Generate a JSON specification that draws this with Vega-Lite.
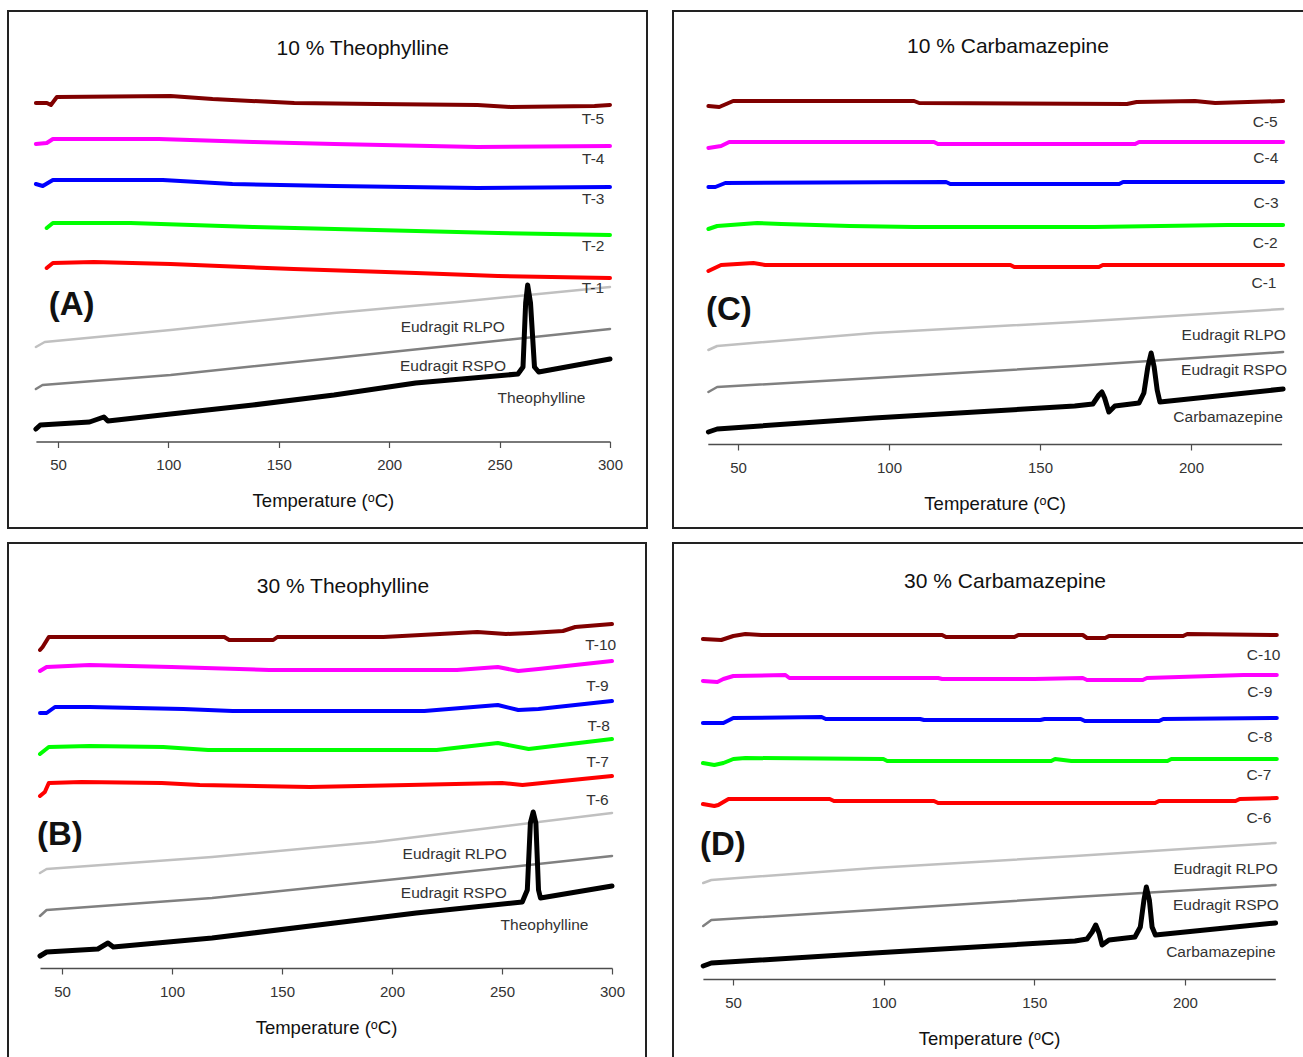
{
  "$schema": "https://vega.github.io/schema/vega-lite/v6.json",
  "padding": {"left": 7, "top": 10, "right": 0, "bottom": 0},
  "background": "white",
  "datasets": {
    "curves": [
      {"panel":"A","series":"T-5","kind":"formulation","temp":40,"flow":34.0},
      {"panel":"A","series":"T-5","kind":"formulation","temp":45,"flow":34.0},
      {"panel":"A","series":"T-5","kind":"formulation","temp":46.8,"flow":33.8},
      {"panel":"A","series":"T-5","kind":"formulation","temp":49.5,"flow":34.6},
      {"panel":"A","series":"T-5","kind":"formulation","temp":101,"flow":34.7},
      {"panel":"A","series":"T-5","kind":"formulation","temp":120,"flow":34.4},
      {"panel":"A","series":"T-5","kind":"formulation","temp":157,"flow":34.0},
      {"panel":"A","series":"T-5","kind":"formulation","temp":194,"flow":33.9},
      {"panel":"A","series":"T-5","kind":"formulation","temp":240,"flow":33.8},
      {"panel":"A","series":"T-5","kind":"formulation","temp":255,"flow":33.6},
      {"panel":"A","series":"T-5","kind":"formulation","temp":293,"flow":33.7},
      {"panel":"A","series":"T-5","kind":"formulation","temp":300,"flow":33.8},
      {"panel":"A","series":"T-4","kind":"formulation","temp":40,"flow":29.9},
      {"panel":"A","series":"T-4","kind":"formulation","temp":44.9,"flow":30.0},
      {"panel":"A","series":"T-4","kind":"formulation","temp":47.7,"flow":30.4},
      {"panel":"A","series":"T-4","kind":"formulation","temp":95.7,"flow":30.4},
      {"panel":"A","series":"T-4","kind":"formulation","temp":138.3,"flow":30.1},
      {"panel":"A","series":"T-4","kind":"formulation","temp":175.2,"flow":29.9},
      {"panel":"A","series":"T-4","kind":"formulation","temp":240,"flow":29.6},
      {"panel":"A","series":"T-4","kind":"formulation","temp":300,"flow":29.7},
      {"panel":"A","series":"T-3","kind":"formulation","temp":40,"flow":25.9},
      {"panel":"A","series":"T-3","kind":"formulation","temp":43.1,"flow":25.7},
      {"panel":"A","series":"T-3","kind":"formulation","temp":47.7,"flow":26.3},
      {"panel":"A","series":"T-3","kind":"formulation","temp":97.5,"flow":26.3},
      {"panel":"A","series":"T-3","kind":"formulation","temp":129,"flow":25.9},
      {"panel":"A","series":"T-3","kind":"formulation","temp":175,"flow":25.7},
      {"panel":"A","series":"T-3","kind":"formulation","temp":240,"flow":25.5},
      {"panel":"A","series":"T-3","kind":"formulation","temp":300,"flow":25.6},
      {"panel":"A","series":"T-2","kind":"formulation","temp":44.9,"flow":21.5},
      {"panel":"A","series":"T-2","kind":"formulation","temp":47.7,"flow":22.0},
      {"panel":"A","series":"T-2","kind":"formulation","temp":82.8,"flow":22.0},
      {"panel":"A","series":"T-2","kind":"formulation","temp":138.3,"flow":21.6},
      {"panel":"A","series":"T-2","kind":"formulation","temp":193.6,"flow":21.3},
      {"panel":"A","series":"T-2","kind":"formulation","temp":249.2,"flow":21.0},
      {"panel":"A","series":"T-2","kind":"formulation","temp":300,"flow":20.8},
      {"panel":"A","series":"T-1","kind":"formulation","temp":44.9,"flow":17.5},
      {"panel":"A","series":"T-1","kind":"formulation","temp":47.7,"flow":18.0},
      {"panel":"A","series":"T-1","kind":"formulation","temp":66.2,"flow":18.1},
      {"panel":"A","series":"T-1","kind":"formulation","temp":101,"flow":17.9},
      {"panel":"A","series":"T-1","kind":"formulation","temp":156.7,"flow":17.4},
      {"panel":"A","series":"T-1","kind":"formulation","temp":212.1,"flow":17.0},
      {"panel":"A","series":"T-1","kind":"formulation","temp":249.2,"flow":16.7},
      {"panel":"A","series":"T-1","kind":"formulation","temp":300,"flow":16.5},
      {"panel":"A","series":"Eudragit RLPO","kind":"polymer","temp":40,"flow":9.6},
      {"panel":"A","series":"Eudragit RLPO","kind":"polymer","temp":44,"flow":10.1},
      {"panel":"A","series":"Eudragit RLPO","kind":"polymer","temp":101,"flow":11.3},
      {"panel":"A","series":"Eudragit RLPO","kind":"polymer","temp":175,"flow":13.0},
      {"panel":"A","series":"Eudragit RLPO","kind":"polymer","temp":230.7,"flow":14.1},
      {"panel":"A","series":"Eudragit RLPO","kind":"polymer","temp":300,"flow":15.6},
      {"panel":"A","series":"Eudragit RSPO","kind":"polymer","temp":40,"flow":5.4},
      {"panel":"A","series":"Eudragit RSPO","kind":"polymer","temp":43,"flow":5.8},
      {"panel":"A","series":"Eudragit RSPO","kind":"polymer","temp":101,"flow":6.8},
      {"panel":"A","series":"Eudragit RSPO","kind":"polymer","temp":175,"flow":8.5},
      {"panel":"A","series":"Eudragit RSPO","kind":"polymer","temp":300,"flow":11.4},
      {"panel":"A","series":"Theophylline","kind":"drug","temp":40,"flow":1.4},
      {"panel":"A","series":"Theophylline","kind":"drug","temp":42,"flow":1.8},
      {"panel":"A","series":"Theophylline","kind":"drug","temp":64.3,"flow":2.1},
      {"panel":"A","series":"Theophylline","kind":"drug","temp":70.8,"flow":2.6},
      {"panel":"A","series":"Theophylline","kind":"drug","temp":72.6,"flow":2.2},
      {"panel":"A","series":"Theophylline","kind":"drug","temp":101,"flow":2.9},
      {"panel":"A","series":"Theophylline","kind":"drug","temp":138.3,"flow":3.8},
      {"panel":"A","series":"Theophylline","kind":"drug","temp":175,"flow":4.8},
      {"panel":"A","series":"Theophylline","kind":"drug","temp":212,"flow":6.0},
      {"panel":"A","series":"Theophylline","kind":"drug","temp":258.3,"flow":6.9},
      {"panel":"A","series":"Theophylline","kind":"drug","temp":260.6,"flow":7.6},
      {"panel":"A","series":"Theophylline","kind":"drug","temp":261.8,"flow":14.0},
      {"panel":"A","series":"Theophylline","kind":"drug","temp":262.7,"flow":15.8},
      {"panel":"A","series":"Theophylline","kind":"drug","temp":264,"flow":14.0},
      {"panel":"A","series":"Theophylline","kind":"drug","temp":265.8,"flow":7.6},
      {"panel":"A","series":"Theophylline","kind":"drug","temp":267.7,"flow":7.1},
      {"panel":"A","series":"Theophylline","kind":"drug","temp":300,"flow":8.4},

      {"panel":"C","series":"C-5","kind":"formulation","temp":40.2,"flow":33.9},
      {"panel":"C","series":"C-5","kind":"formulation","temp":43.8,"flow":33.8},
      {"panel":"C","series":"C-5","kind":"formulation","temp":48.4,"flow":34.4},
      {"panel":"C","series":"C-5","kind":"formulation","temp":108.3,"flow":34.4},
      {"panel":"C","series":"C-5","kind":"formulation","temp":110,"flow":34.2},
      {"panel":"C","series":"C-5","kind":"formulation","temp":178.8,"flow":34.1},
      {"panel":"C","series":"C-5","kind":"formulation","temp":182,"flow":34.3},
      {"panel":"C","series":"C-5","kind":"formulation","temp":201.3,"flow":34.4},
      {"panel":"C","series":"C-5","kind":"formulation","temp":208,"flow":34.2},
      {"panel":"C","series":"C-5","kind":"formulation","temp":230.5,"flow":34.4},
      {"panel":"C","series":"C-4","kind":"formulation","temp":40.2,"flow":29.7},
      {"panel":"C","series":"C-4","kind":"formulation","temp":44.4,"flow":29.9},
      {"panel":"C","series":"C-4","kind":"formulation","temp":47.1,"flow":30.3},
      {"panel":"C","series":"C-4","kind":"formulation","temp":114.9,"flow":30.3},
      {"panel":"C","series":"C-4","kind":"formulation","temp":116.2,"flow":30.1},
      {"panel":"C","series":"C-4","kind":"formulation","temp":181.5,"flow":30.1},
      {"panel":"C","series":"C-4","kind":"formulation","temp":182.8,"flow":30.3},
      {"panel":"C","series":"C-4","kind":"formulation","temp":230.5,"flow":30.3},
      {"panel":"C","series":"C-3","kind":"formulation","temp":40.2,"flow":25.8},
      {"panel":"C","series":"C-3","kind":"formulation","temp":42.5,"flow":25.8},
      {"panel":"C","series":"C-3","kind":"formulation","temp":45.8,"flow":26.2},
      {"panel":"C","series":"C-3","kind":"formulation","temp":118.9,"flow":26.3},
      {"panel":"C","series":"C-3","kind":"formulation","temp":120.3,"flow":26.1},
      {"panel":"C","series":"C-3","kind":"formulation","temp":176.2,"flow":26.1},
      {"panel":"C","series":"C-3","kind":"formulation","temp":177.5,"flow":26.3},
      {"panel":"C","series":"C-3","kind":"formulation","temp":230.5,"flow":26.3},
      {"panel":"C","series":"C-2","kind":"formulation","temp":40.2,"flow":21.6},
      {"panel":"C","series":"C-2","kind":"formulation","temp":43.1,"flow":21.9},
      {"panel":"C","series":"C-2","kind":"formulation","temp":56.4,"flow":22.2},
      {"panel":"C","series":"C-2","kind":"formulation","temp":64.4,"flow":22.1},
      {"panel":"C","series":"C-2","kind":"formulation","temp":87,"flow":21.9},
      {"panel":"C","series":"C-2","kind":"formulation","temp":108.3,"flow":21.8},
      {"panel":"C","series":"C-2","kind":"formulation","temp":168.1,"flow":21.8},
      {"panel":"C","series":"C-2","kind":"formulation","temp":212,"flow":22.0},
      {"panel":"C","series":"C-2","kind":"formulation","temp":230.5,"flow":22.0},
      {"panel":"C","series":"C-1","kind":"formulation","temp":40.2,"flow":17.4},
      {"panel":"C","series":"C-1","kind":"formulation","temp":44.4,"flow":18.0},
      {"panel":"C","series":"C-1","kind":"formulation","temp":55.1,"flow":18.2},
      {"panel":"C","series":"C-1","kind":"formulation","temp":59,"flow":18.0},
      {"panel":"C","series":"C-1","kind":"formulation","temp":140.2,"flow":18.0},
      {"panel":"C","series":"C-1","kind":"formulation","temp":141.5,"flow":17.8},
      {"panel":"C","series":"C-1","kind":"formulation","temp":169.5,"flow":17.8},
      {"panel":"C","series":"C-1","kind":"formulation","temp":170.8,"flow":18.0},
      {"panel":"C","series":"C-1","kind":"formulation","temp":230.5,"flow":18.0},
      {"panel":"C","series":"Eudragit RLPO","kind":"polymer","temp":40.2,"flow":9.5},
      {"panel":"C","series":"Eudragit RLPO","kind":"polymer","temp":43.1,"flow":9.9},
      {"panel":"C","series":"Eudragit RLPO","kind":"polymer","temp":95,"flow":11.2},
      {"panel":"C","series":"Eudragit RLPO","kind":"polymer","temp":161.5,"flow":12.3},
      {"panel":"C","series":"Eudragit RLPO","kind":"polymer","temp":230.5,"flow":13.6},
      {"panel":"C","series":"Eudragit RSPO","kind":"polymer","temp":40.2,"flow":5.3},
      {"panel":"C","series":"Eudragit RSPO","kind":"polymer","temp":43.1,"flow":5.8},
      {"panel":"C","series":"Eudragit RSPO","kind":"polymer","temp":95,"flow":6.7},
      {"panel":"C","series":"Eudragit RSPO","kind":"polymer","temp":161.5,"flow":7.9},
      {"panel":"C","series":"Eudragit RSPO","kind":"polymer","temp":230.5,"flow":9.3},
      {"panel":"C","series":"Carbamazepine","kind":"drug","temp":40.2,"flow":1.3},
      {"panel":"C","series":"Carbamazepine","kind":"drug","temp":43.1,"flow":1.6},
      {"panel":"C","series":"Carbamazepine","kind":"drug","temp":95,"flow":2.7},
      {"panel":"C","series":"Carbamazepine","kind":"drug","temp":161.5,"flow":3.9},
      {"panel":"C","series":"Carbamazepine","kind":"drug","temp":167.5,"flow":4.1},
      {"panel":"C","series":"Carbamazepine","kind":"drug","temp":169.5,"flow":5.0},
      {"panel":"C","series":"Carbamazepine","kind":"drug","temp":170.5,"flow":5.3},
      {"panel":"C","series":"Carbamazepine","kind":"drug","temp":171.4,"flow":4.7},
      {"panel":"C","series":"Carbamazepine","kind":"drug","temp":172.8,"flow":3.3},
      {"panel":"C","series":"Carbamazepine","kind":"drug","temp":174.8,"flow":3.9},
      {"panel":"C","series":"Carbamazepine","kind":"drug","temp":182.8,"flow":4.2},
      {"panel":"C","series":"Carbamazepine","kind":"drug","temp":184.4,"flow":5.2},
      {"panel":"C","series":"Carbamazepine","kind":"drug","temp":185.7,"flow":7.8},
      {"panel":"C","series":"Carbamazepine","kind":"drug","temp":186.8,"flow":9.2},
      {"panel":"C","series":"Carbamazepine","kind":"drug","temp":187.8,"flow":7.8},
      {"panel":"C","series":"Carbamazepine","kind":"drug","temp":188.8,"flow":5.5},
      {"panel":"C","series":"Carbamazepine","kind":"drug","temp":189.7,"flow":4.3},
      {"panel":"C","series":"Carbamazepine","kind":"drug","temp":230.5,"flow":5.6},

      {"panel":"B","series":"T-10","kind":"formulation","temp":40,"flow":31.8},
      {"panel":"B","series":"T-10","kind":"formulation","temp":41.2,"flow":32.1},
      {"panel":"B","series":"T-10","kind":"formulation","temp":44,"flow":33.1},
      {"panel":"B","series":"T-10","kind":"formulation","temp":123.8,"flow":33.1},
      {"panel":"B","series":"T-10","kind":"formulation","temp":126,"flow":32.8},
      {"panel":"B","series":"T-10","kind":"formulation","temp":146,"flow":32.8},
      {"panel":"B","series":"T-10","kind":"formulation","temp":147.9,"flow":33.1},
      {"panel":"B","series":"T-10","kind":"formulation","temp":196.1,"flow":33.1},
      {"panel":"B","series":"T-10","kind":"formulation","temp":238.8,"flow":33.6},
      {"panel":"B","series":"T-10","kind":"formulation","temp":251.8,"flow":33.4},
      {"panel":"B","series":"T-10","kind":"formulation","temp":262.9,"flow":33.5},
      {"panel":"B","series":"T-10","kind":"formulation","temp":277.7,"flow":33.7},
      {"panel":"B","series":"T-10","kind":"formulation","temp":283.3,"flow":34.1},
      {"panel":"B","series":"T-10","kind":"formulation","temp":300,"flow":34.4},
      {"panel":"B","series":"T-9","kind":"formulation","temp":40,"flow":29.7},
      {"panel":"B","series":"T-9","kind":"formulation","temp":43,"flow":30.1},
      {"panel":"B","series":"T-9","kind":"formulation","temp":62.5,"flow":30.3},
      {"panel":"B","series":"T-9","kind":"formulation","temp":99.7,"flow":30.1},
      {"panel":"B","series":"T-9","kind":"formulation","temp":144.2,"flow":29.8},
      {"panel":"B","series":"T-9","kind":"formulation","temp":229.5,"flow":29.8},
      {"panel":"B","series":"T-9","kind":"formulation","temp":248.1,"flow":30.1},
      {"panel":"B","series":"T-9","kind":"formulation","temp":257.4,"flow":29.7},
      {"panel":"B","series":"T-9","kind":"formulation","temp":266.6,"flow":29.9},
      {"panel":"B","series":"T-9","kind":"formulation","temp":300,"flow":30.7},
      {"panel":"B","series":"T-8","kind":"formulation","temp":40,"flow":25.5},
      {"panel":"B","series":"T-8","kind":"formulation","temp":43,"flow":25.5},
      {"panel":"B","series":"T-8","kind":"formulation","temp":46.8,"flow":26.1},
      {"panel":"B","series":"T-8","kind":"formulation","temp":62.5,"flow":26.1},
      {"panel":"B","series":"T-8","kind":"formulation","temp":105.2,"flow":25.9},
      {"panel":"B","series":"T-8","kind":"formulation","temp":127.5,"flow":25.7},
      {"panel":"B","series":"T-8","kind":"formulation","temp":214.7,"flow":25.7},
      {"panel":"B","series":"T-8","kind":"formulation","temp":248.1,"flow":26.3},
      {"panel":"B","series":"T-8","kind":"formulation","temp":257.4,"flow":25.8},
      {"panel":"B","series":"T-8","kind":"formulation","temp":266.6,"flow":25.9},
      {"panel":"B","series":"T-8","kind":"formulation","temp":300,"flow":26.7},
      {"panel":"B","series":"T-7","kind":"formulation","temp":40,"flow":21.4},
      {"panel":"B","series":"T-7","kind":"formulation","temp":44,"flow":22.1},
      {"panel":"B","series":"T-7","kind":"formulation","temp":62.5,"flow":22.2},
      {"panel":"B","series":"T-7","kind":"formulation","temp":96,"flow":22.1},
      {"panel":"B","series":"T-7","kind":"formulation","temp":116.4,"flow":21.8},
      {"panel":"B","series":"T-7","kind":"formulation","temp":220.3,"flow":21.8},
      {"panel":"B","series":"T-7","kind":"formulation","temp":248.1,"flow":22.5},
      {"panel":"B","series":"T-7","kind":"formulation","temp":262.1,"flow":21.9},
      {"panel":"B","series":"T-7","kind":"formulation","temp":300,"flow":22.9},
      {"panel":"B","series":"T-6","kind":"formulation","temp":40,"flow":17.2},
      {"panel":"B","series":"T-6","kind":"formulation","temp":42.2,"flow":17.6},
      {"panel":"B","series":"T-6","kind":"formulation","temp":44,"flow":18.5},
      {"panel":"B","series":"T-6","kind":"formulation","temp":58.9,"flow":18.6},
      {"panel":"B","series":"T-6","kind":"formulation","temp":95.3,"flow":18.5},
      {"panel":"B","series":"T-6","kind":"formulation","temp":112.6,"flow":18.3},
      {"panel":"B","series":"T-6","kind":"formulation","temp":162.7,"flow":18.1},
      {"panel":"B","series":"T-6","kind":"formulation","temp":207.6,"flow":18.3},
      {"panel":"B","series":"T-6","kind":"formulation","temp":250,"flow":18.5},
      {"panel":"B","series":"T-6","kind":"formulation","temp":259.3,"flow":18.3},
      {"panel":"B","series":"T-6","kind":"formulation","temp":300,"flow":19.2},
      {"panel":"B","series":"Eudragit RLPO","kind":"polymer","temp":40,"flow":9.5},
      {"panel":"B","series":"Eudragit RLPO","kind":"polymer","temp":43,"flow":9.9},
      {"panel":"B","series":"Eudragit RLPO","kind":"polymer","temp":118.2,"flow":11.1},
      {"panel":"B","series":"Eudragit RLPO","kind":"polymer","temp":192.4,"flow":12.6},
      {"panel":"B","series":"Eudragit RLPO","kind":"polymer","temp":248.1,"flow":14.1},
      {"panel":"B","series":"Eudragit RLPO","kind":"polymer","temp":300,"flow":15.5},
      {"panel":"B","series":"Eudragit RSPO","kind":"polymer","temp":40,"flow":5.2},
      {"panel":"B","series":"Eudragit RSPO","kind":"polymer","temp":43,"flow":5.8},
      {"panel":"B","series":"Eudragit RSPO","kind":"polymer","temp":118.2,"flow":7.0},
      {"panel":"B","series":"Eudragit RSPO","kind":"polymer","temp":211,"flow":9.1},
      {"panel":"B","series":"Eudragit RSPO","kind":"polymer","temp":300,"flow":11.2},
      {"panel":"B","series":"Theophylline","kind":"drug","temp":40,"flow":1.2},
      {"panel":"B","series":"Theophylline","kind":"drug","temp":43,"flow":1.6},
      {"panel":"B","series":"Theophylline","kind":"drug","temp":66.3,"flow":1.9},
      {"panel":"B","series":"Theophylline","kind":"drug","temp":70.9,"flow":2.5},
      {"panel":"B","series":"Theophylline","kind":"drug","temp":73.3,"flow":2.1},
      {"panel":"B","series":"Theophylline","kind":"drug","temp":118.2,"flow":3.0},
      {"panel":"B","series":"Theophylline","kind":"drug","temp":173.9,"flow":4.5},
      {"panel":"B","series":"Theophylline","kind":"drug","temp":211,"flow":5.5},
      {"panel":"B","series":"Theophylline","kind":"drug","temp":259.2,"flow":6.6},
      {"panel":"B","series":"Theophylline","kind":"drug","temp":261.5,"flow":7.8},
      {"panel":"B","series":"Theophylline","kind":"drug","temp":262.9,"flow":14.5},
      {"panel":"B","series":"Theophylline","kind":"drug","temp":264.2,"flow":15.6},
      {"panel":"B","series":"Theophylline","kind":"drug","temp":265.4,"flow":14.5},
      {"panel":"B","series":"Theophylline","kind":"drug","temp":266.6,"flow":7.8},
      {"panel":"B","series":"Theophylline","kind":"drug","temp":267.5,"flow":7.0},
      {"panel":"B","series":"Theophylline","kind":"drug","temp":300,"flow":8.2},

      {"panel":"D","series":"C-10","kind":"formulation","temp":40,"flow":34.0},
      {"panel":"D","series":"C-10","kind":"formulation","temp":46.1,"flow":33.9},
      {"panel":"D","series":"C-10","kind":"formulation","temp":50.1,"flow":34.3},
      {"panel":"D","series":"C-10","kind":"formulation","temp":54.1,"flow":34.5},
      {"panel":"D","series":"C-10","kind":"formulation","temp":59.4,"flow":34.4},
      {"panel":"D","series":"C-10","kind":"formulation","temp":119.4,"flow":34.4},
      {"panel":"D","series":"C-10","kind":"formulation","temp":120.7,"flow":34.2},
      {"panel":"D","series":"C-10","kind":"formulation","temp":143.4,"flow":34.2},
      {"panel":"D","series":"C-10","kind":"formulation","temp":144.7,"flow":34.4},
      {"panel":"D","series":"C-10","kind":"formulation","temp":166.1,"flow":34.4},
      {"panel":"D","series":"C-10","kind":"formulation","temp":167.5,"flow":34.1},
      {"panel":"D","series":"C-10","kind":"formulation","temp":173.5,"flow":34.1},
      {"panel":"D","series":"C-10","kind":"formulation","temp":174.8,"flow":34.3},
      {"panel":"D","series":"C-10","kind":"formulation","temp":199.4,"flow":34.3},
      {"panel":"D","series":"C-10","kind":"formulation","temp":200.8,"flow":34.5},
      {"panel":"D","series":"C-10","kind":"formulation","temp":230.5,"flow":34.4},
      {"panel":"D","series":"C-9","kind":"formulation","temp":40,"flow":29.8},
      {"panel":"D","series":"C-9","kind":"formulation","temp":44.8,"flow":29.7},
      {"panel":"D","series":"C-9","kind":"formulation","temp":46.8,"flow":30.0},
      {"panel":"D","series":"C-9","kind":"formulation","temp":50.1,"flow":30.3},
      {"panel":"D","series":"C-9","kind":"formulation","temp":67.4,"flow":30.4},
      {"panel":"D","series":"C-9","kind":"formulation","temp":68.7,"flow":30.1},
      {"panel":"D","series":"C-9","kind":"formulation","temp":118.1,"flow":30.1},
      {"panel":"D","series":"C-9","kind":"formulation","temp":119.4,"flow":30.0},
      {"panel":"D","series":"C-9","kind":"formulation","temp":150,"flow":30.0},
      {"panel":"D","series":"C-9","kind":"formulation","temp":166.1,"flow":30.1},
      {"panel":"D","series":"C-9","kind":"formulation","temp":167.5,"flow":29.9},
      {"panel":"D","series":"C-9","kind":"formulation","temp":186,"flow":29.9},
      {"panel":"D","series":"C-9","kind":"formulation","temp":187.4,"flow":30.1},
      {"panel":"D","series":"C-9","kind":"formulation","temp":219.4,"flow":30.4},
      {"panel":"D","series":"C-9","kind":"formulation","temp":230.5,"flow":30.4},
      {"panel":"D","series":"C-8","kind":"formulation","temp":40,"flow":25.6},
      {"panel":"D","series":"C-8","kind":"formulation","temp":46.8,"flow":25.6},
      {"panel":"D","series":"C-8","kind":"formulation","temp":50.1,"flow":26.1},
      {"panel":"D","series":"C-8","kind":"formulation","temp":79.4,"flow":26.2},
      {"panel":"D","series":"C-8","kind":"formulation","temp":80.8,"flow":26.0},
      {"panel":"D","series":"C-8","kind":"formulation","temp":112.1,"flow":26.0},
      {"panel":"D","series":"C-8","kind":"formulation","temp":113.4,"flow":25.9},
      {"panel":"D","series":"C-8","kind":"formulation","temp":152,"flow":25.9},
      {"panel":"D","series":"C-8","kind":"formulation","temp":153.4,"flow":26.0},
      {"panel":"D","series":"C-8","kind":"formulation","temp":165.4,"flow":26.0},
      {"panel":"D","series":"C-8","kind":"formulation","temp":166.8,"flow":25.8},
      {"panel":"D","series":"C-8","kind":"formulation","temp":191.4,"flow":25.8},
      {"panel":"D","series":"C-8","kind":"formulation","temp":192.8,"flow":26.0},
      {"panel":"D","series":"C-8","kind":"formulation","temp":230.5,"flow":26.1},
      {"panel":"D","series":"C-7","kind":"formulation","temp":40,"flow":21.6},
      {"panel":"D","series":"C-7","kind":"formulation","temp":43.8,"flow":21.4},
      {"panel":"D","series":"C-7","kind":"formulation","temp":46.8,"flow":21.6},
      {"panel":"D","series":"C-7","kind":"formulation","temp":50.1,"flow":22.0},
      {"panel":"D","series":"C-7","kind":"formulation","temp":54.1,"flow":22.1},
      {"panel":"D","series":"C-7","kind":"formulation","temp":99.9,"flow":22.0},
      {"panel":"D","series":"C-7","kind":"formulation","temp":101.2,"flow":21.8},
      {"panel":"D","series":"C-7","kind":"formulation","temp":155.6,"flow":21.8},
      {"panel":"D","series":"C-7","kind":"formulation","temp":156.9,"flow":22.0},
      {"panel":"D","series":"C-7","kind":"formulation","temp":162.3,"flow":21.8},
      {"panel":"D","series":"C-7","kind":"formulation","temp":194.2,"flow":21.8},
      {"panel":"D","series":"C-7","kind":"formulation","temp":195.5,"flow":22.0},
      {"panel":"D","series":"C-7","kind":"formulation","temp":230.5,"flow":22.0},
      {"panel":"D","series":"C-6","kind":"formulation","temp":40,"flow":17.5},
      {"panel":"D","series":"C-6","kind":"formulation","temp":43.8,"flow":17.3},
      {"panel":"D","series":"C-6","kind":"formulation","temp":45.1,"flow":17.4},
      {"panel":"D","series":"C-6","kind":"formulation","temp":48.5,"flow":18.0},
      {"panel":"D","series":"C-6","kind":"formulation","temp":82.1,"flow":18.0},
      {"panel":"D","series":"C-6","kind":"formulation","temp":83.5,"flow":17.8},
      {"panel":"D","series":"C-6","kind":"formulation","temp":116.7,"flow":17.8},
      {"panel":"D","series":"C-6","kind":"formulation","temp":118.1,"flow":17.6},
      {"panel":"D","series":"C-6","kind":"formulation","temp":190.1,"flow":17.6},
      {"panel":"D","series":"C-6","kind":"formulation","temp":191.4,"flow":17.8},
      {"panel":"D","series":"C-6","kind":"formulation","temp":216.8,"flow":17.8},
      {"panel":"D","series":"C-6","kind":"formulation","temp":218.2,"flow":18.0},
      {"panel":"D","series":"C-6","kind":"formulation","temp":230.5,"flow":18.1},
      {"panel":"D","series":"Eudragit RLPO","kind":"polymer","temp":40.1,"flow":9.6},
      {"panel":"D","series":"Eudragit RLPO","kind":"polymer","temp":42.8,"flow":9.9},
      {"panel":"D","series":"Eudragit RLPO","kind":"polymer","temp":96.8,"flow":11.1},
      {"panel":"D","series":"Eudragit RLPO","kind":"polymer","temp":163.5,"flow":12.3},
      {"panel":"D","series":"Eudragit RLPO","kind":"polymer","temp":230.1,"flow":13.6},
      {"panel":"D","series":"Eudragit RSPO","kind":"polymer","temp":40.1,"flow":5.3},
      {"panel":"D","series":"Eudragit RSPO","kind":"polymer","temp":42.8,"flow":5.9},
      {"panel":"D","series":"Eudragit RSPO","kind":"polymer","temp":96.8,"flow":6.9},
      {"panel":"D","series":"Eudragit RSPO","kind":"polymer","temp":163.5,"flow":8.2},
      {"panel":"D","series":"Eudragit RSPO","kind":"polymer","temp":230.1,"flow":9.4},
      {"panel":"D","series":"Carbamazepine","kind":"drug","temp":40.1,"flow":1.3},
      {"panel":"D","series":"Carbamazepine","kind":"drug","temp":42.8,"flow":1.6},
      {"panel":"D","series":"Carbamazepine","kind":"drug","temp":96.8,"flow":2.6},
      {"panel":"D","series":"Carbamazepine","kind":"drug","temp":163.5,"flow":3.8},
      {"panel":"D","series":"Carbamazepine","kind":"drug","temp":167.5,"flow":4.0},
      {"panel":"D","series":"Carbamazepine","kind":"drug","temp":169.2,"flow":4.7},
      {"panel":"D","series":"Carbamazepine","kind":"drug","temp":170.4,"flow":5.4},
      {"panel":"D","series":"Carbamazepine","kind":"drug","temp":171.5,"flow":4.6},
      {"panel":"D","series":"Carbamazepine","kind":"drug","temp":172.5,"flow":3.4},
      {"panel":"D","series":"Carbamazepine","kind":"drug","temp":174.8,"flow":3.9},
      {"panel":"D","series":"Carbamazepine","kind":"drug","temp":183.4,"flow":4.2},
      {"panel":"D","series":"Carbamazepine","kind":"drug","temp":185.2,"flow":5.2},
      {"panel":"D","series":"Carbamazepine","kind":"drug","temp":186.4,"flow":7.9},
      {"panel":"D","series":"Carbamazepine","kind":"drug","temp":187.2,"flow":9.2},
      {"panel":"D","series":"Carbamazepine","kind":"drug","temp":188.2,"flow":7.9},
      {"panel":"D","series":"Carbamazepine","kind":"drug","temp":189.1,"flow":5.2},
      {"panel":"D","series":"Carbamazepine","kind":"drug","temp":190.2,"flow":4.4},
      {"panel":"D","series":"Carbamazepine","kind":"drug","temp":230.1,"flow":5.6}
    ],
    "notes": [
      {"panel":"A","role":"title","text":"10 % Theophylline","temp":188,"flow":39.4},
      {"panel":"A","role":"letter","text":"(A)","temp":45.8,"flow":13.8},
      {"panel":"A","role":"label","text":"T-5","temp":297.3,"flow":32.4},
      {"panel":"A","role":"label","text":"T-4","temp":297.5,"flow":28.4},
      {"panel":"A","role":"label","text":"T-3","temp":297.5,"flow":24.4},
      {"panel":"A","role":"label","text":"T-2","temp":297.5,"flow":19.7},
      {"panel":"A","role":"label","text":"T-1","temp":297.3,"flow":15.5},
      {"panel":"A","role":"label","text":"Eudragit RLPO","temp":252.4,"flow":11.6},
      {"panel":"A","role":"label","text":"Eudragit RSPO","temp":252.9,"flow":7.7},
      {"panel":"A","role":"label","text":"Theophylline","temp":288.9,"flow":4.5},
      {"panel":"C","role":"title","text":"10 % Carbamazepine","temp":139.4,"flow":39.8},
      {"panel":"C","role":"letter","text":"(C)","temp":39.4,"flow":13.5},
      {"panel":"C","role":"label","text":"C-5","temp":228.7,"flow":32.3},
      {"panel":"C","role":"label","text":"C-4","temp":228.9,"flow":28.7},
      {"panel":"C","role":"label","text":"C-3","temp":229,"flow":24.2},
      {"panel":"C","role":"label","text":"C-2","temp":228.7,"flow":20.2},
      {"panel":"C","role":"label","text":"C-1","temp":228.3,"flow":16.2},
      {"panel":"C","role":"label","text":"Eudragit RLPO","temp":231.4,"flow":11.0},
      {"panel":"C","role":"label","text":"Eudragit RSPO","temp":231.8,"flow":7.5},
      {"panel":"C","role":"label","text":"Carbamazepine","temp":230.4,"flow":2.8},
      {"panel":"B","role":"title","text":"30 % Theophylline","temp":177.7,"flow":38.1},
      {"panel":"B","role":"letter","text":"(B)","temp":38.6,"flow":13.3},
      {"panel":"B","role":"label","text":"T-10","temp":301.9,"flow":32.3},
      {"panel":"B","role":"label","text":"T-9","temp":298.5,"flow":28.2},
      {"panel":"B","role":"label","text":"T-8","temp":299,"flow":24.2},
      {"panel":"B","role":"label","text":"T-7","temp":298.6,"flow":20.6},
      {"panel":"B","role":"label","text":"T-6","temp":298.5,"flow":16.8},
      {"panel":"B","role":"label","text":"Eudragit RLPO","temp":252.2,"flow":11.4},
      {"panel":"B","role":"label","text":"Eudragit RSPO","temp":252.2,"flow":7.5},
      {"panel":"B","role":"label","text":"Theophylline","temp":289.3,"flow":4.3},
      {"panel":"D","role":"title","text":"30 % Carbamazepine","temp":140.3,"flow":39.7},
      {"panel":"D","role":"letter","text":"(D)","temp":39.0,"flow":13.4},
      {"panel":"D","role":"label","text":"C-10","temp":231.7,"flow":32.4},
      {"panel":"D","role":"label","text":"C-9","temp":229,"flow":28.7},
      {"panel":"D","role":"label","text":"C-8","temp":229,"flow":24.2},
      {"panel":"D","role":"label","text":"C-7","temp":228.7,"flow":20.4},
      {"panel":"D","role":"label","text":"C-6","temp":228.7,"flow":16.1},
      {"panel":"D","role":"label","text":"Eudragit RLPO","temp":230.8,"flow":11.0},
      {"panel":"D","role":"label","text":"Eudragit RSPO","temp":231.2,"flow":7.4},
      {"panel":"D","role":"label","text":"Carbamazepine","temp":230.1,"flow":2.7}
    ]
  },
  "vconcat": [
    {
      "hconcat": [
        {
          "width": 639, "height": 517,
          "encoding": {
            "x": {"field": "temp", "type": "quantitative", "scale": {"domain": [40, 300], "range": [27.9, 602], "nice": false, "zero": false}, "axis": {"values": [50, 100, 150, 200, 250, 300], "offset": -86.5, "title": "Temperature (ᵒC)"}},
            "y": {"field": "flow", "type": "quantitative", "scale": {"domain": [-8.5, 43.2], "nice": false, "zero": false}, "axis": null}
          },
          "layer": [
            {"data": {"name": "curves"}, "transform": [{"filter": "datum.panel === 'A'"}],
             "mark": {"type": "line", "strokeCap": "round", "strokeJoin": "round"},
             "encoding": {
               "color": {"field": "series", "type": "nominal", "legend": null, "scale": {"domain": ["T-5","T-4","T-3","T-2","T-1","T-10","T-9","T-8","T-7","T-6","C-5","C-4","C-3","C-2","C-1","C-10","C-9","C-8","C-7","C-6","Eudragit RLPO","Eudragit RSPO","Theophylline","Carbamazepine"], "range": ["#800000","#FF00FF","#0000FF","#00FF00","#FF0000","#800000","#FF00FF","#0000FF","#00FF00","#FF0000","#800000","#FF00FF","#0000FF","#00FF00","#FF0000","#800000","#FF00FF","#0000FF","#00FF00","#FF0000","#C0C0C0","#808080","#000000","#000000"]}},
               "strokeWidth": {"field": "kind", "type": "nominal", "legend": null, "scale": {"type": "ordinal", "domain": ["formulation","polymer","drug"], "range": [4, 2.5, 5]}}
             }},
            {"data": {"name": "notes"}, "transform": [{"filter": "datum.panel === 'A' && datum.role === 'label'"}],
             "mark": {"type": "text", "align": "right", "baseline": "middle", "fontSize": 15.5, "font": "Liberation Sans", "color": "#333333"},
             "encoding": {"text": {"field": "text"}}},
            {"data": {"name": "notes"}, "transform": [{"filter": "datum.panel === 'A' && datum.role === 'title'"}],
             "mark": {"type": "text", "align": "center", "baseline": "middle", "fontSize": 21, "font": "Liberation Sans", "color": "#111111"},
             "encoding": {"text": {"field": "text"}}},
            {"data": {"name": "notes"}, "transform": [{"filter": "datum.panel === 'A' && datum.role === 'letter'"}],
             "mark": {"type": "text", "align": "left", "baseline": "middle", "fontSize": 33, "fontWeight": "bold", "font": "Liberation Sans", "color": "#111111"},
             "encoding": {"text": {"field": "text"}}}
          ]
        },
        {
          "width": 640, "height": 517,
          "encoding": {
            "x": {"field": "temp", "type": "quantitative", "scale": {"domain": [40, 230], "range": [34.8, 608.6], "nice": false, "zero": false}, "axis": {"values": [50, 100, 150, 200], "offset": -84, "title": "Temperature (ᵒC)"}},
            "y": {"field": "flow", "type": "quantitative", "scale": {"domain": [-8.3, 43.4], "nice": false, "zero": false}, "axis": null}
          },
          "layer": [
            {"data": {"name": "curves"}, "transform": [{"filter": "datum.panel === 'C'"}],
             "mark": {"type": "line", "strokeCap": "round", "strokeJoin": "round"},
             "encoding": {
               "color": {"field": "series", "type": "nominal", "legend": null, "scale": {"domain": ["T-5","T-4","T-3","T-2","T-1","T-10","T-9","T-8","T-7","T-6","C-5","C-4","C-3","C-2","C-1","C-10","C-9","C-8","C-7","C-6","Eudragit RLPO","Eudragit RSPO","Theophylline","Carbamazepine"], "range": ["#800000","#FF00FF","#0000FF","#00FF00","#FF0000","#800000","#FF00FF","#0000FF","#00FF00","#FF0000","#800000","#FF00FF","#0000FF","#00FF00","#FF0000","#800000","#FF00FF","#0000FF","#00FF00","#FF0000","#C0C0C0","#808080","#000000","#000000"]}},
               "strokeWidth": {"field": "kind", "type": "nominal", "legend": null, "scale": {"type": "ordinal", "domain": ["formulation","polymer","drug"], "range": [4, 2.5, 5]}}
             }},
            {"data": {"name": "notes"}, "transform": [{"filter": "datum.panel === 'C' && datum.role === 'label'"}],
             "mark": {"type": "text", "align": "right", "baseline": "middle", "fontSize": 15.5, "font": "Liberation Sans", "color": "#333333"},
             "encoding": {"text": {"field": "text"}}},
            {"data": {"name": "notes"}, "transform": [{"filter": "datum.panel === 'C' && datum.role === 'title'"}],
             "mark": {"type": "text", "align": "center", "baseline": "middle", "fontSize": 21, "font": "Liberation Sans", "color": "#111111"},
             "encoding": {"text": {"field": "text"}}},
            {"data": {"name": "notes"}, "transform": [{"filter": "datum.panel === 'C' && datum.role === 'letter'"}],
             "mark": {"type": "text", "align": "left", "baseline": "middle", "fontSize": 33, "fontWeight": "bold", "font": "Liberation Sans", "color": "#111111"},
             "encoding": {"text": {"field": "text"}}}
          ]
        }
      ],
      "spacing": 24,
      "resolve": {"scale": {"x": "independent", "y": "independent"}}
    },
    {
      "hconcat": [
        {
          "width": 638, "height": 517,
          "encoding": {
            "x": {"field": "temp", "type": "quantitative", "scale": {"domain": [40, 300], "range": [32, 604], "nice": false, "zero": false}, "axis": {"values": [50, 100, 150, 200, 250, 300], "offset": -92, "title": "Temperature (ᵒC)"}},
            "y": {"field": "flow", "type": "quantitative", "scale": {"domain": [-9.2, 42.5], "nice": false, "zero": false}, "axis": null}
          },
          "layer": [
            {"data": {"name": "curves"}, "transform": [{"filter": "datum.panel === 'B'"}],
             "mark": {"type": "line", "strokeCap": "round", "strokeJoin": "round"},
             "encoding": {
               "color": {"field": "series", "type": "nominal", "legend": null, "scale": {"domain": ["T-5","T-4","T-3","T-2","T-1","T-10","T-9","T-8","T-7","T-6","C-5","C-4","C-3","C-2","C-1","C-10","C-9","C-8","C-7","C-6","Eudragit RLPO","Eudragit RSPO","Theophylline","Carbamazepine"], "range": ["#800000","#FF00FF","#0000FF","#00FF00","#FF0000","#800000","#FF00FF","#0000FF","#00FF00","#FF0000","#800000","#FF00FF","#0000FF","#00FF00","#FF0000","#800000","#FF00FF","#0000FF","#00FF00","#FF0000","#C0C0C0","#808080","#000000","#000000"]}},
               "strokeWidth": {"field": "kind", "type": "nominal", "legend": null, "scale": {"type": "ordinal", "domain": ["formulation","polymer","drug"], "range": [4, 2.5, 5]}}
             }},
            {"data": {"name": "notes"}, "transform": [{"filter": "datum.panel === 'B' && datum.role === 'label'"}],
             "mark": {"type": "text", "align": "right", "baseline": "middle", "fontSize": 15.5, "font": "Liberation Sans", "color": "#333333"},
             "encoding": {"text": {"field": "text"}}},
            {"data": {"name": "notes"}, "transform": [{"filter": "datum.panel === 'B' && datum.role === 'title'"}],
             "mark": {"type": "text", "align": "center", "baseline": "middle", "fontSize": 21, "font": "Liberation Sans", "color": "#111111"},
             "encoding": {"text": {"field": "text"}}},
            {"data": {"name": "notes"}, "transform": [{"filter": "datum.panel === 'B' && datum.role === 'letter'"}],
             "mark": {"type": "text", "align": "left", "baseline": "middle", "fontSize": 33, "fontWeight": "bold", "font": "Liberation Sans", "color": "#111111"},
             "encoding": {"text": {"field": "text"}}}
          ]
        },
        {
          "width": 640, "height": 517,
          "encoding": {
            "x": {"field": "temp", "type": "quantitative", "scale": {"domain": [40, 230], "range": [29.9, 602.3], "nice": false, "zero": false}, "axis": {"values": [50, 100, 150, 200], "offset": -81, "title": "Temperature (ᵒC)"}},
            "y": {"field": "flow", "type": "quantitative", "scale": {"domain": [-8.1, 43.6], "nice": false, "zero": false}, "axis": null}
          },
          "layer": [
            {"data": {"name": "curves"}, "transform": [{"filter": "datum.panel === 'D'"}],
             "mark": {"type": "line", "strokeCap": "round", "strokeJoin": "round"},
             "encoding": {
               "color": {"field": "series", "type": "nominal", "legend": null, "scale": {"domain": ["T-5","T-4","T-3","T-2","T-1","T-10","T-9","T-8","T-7","T-6","C-5","C-4","C-3","C-2","C-1","C-10","C-9","C-8","C-7","C-6","Eudragit RLPO","Eudragit RSPO","Theophylline","Carbamazepine"], "range": ["#800000","#FF00FF","#0000FF","#00FF00","#FF0000","#800000","#FF00FF","#0000FF","#00FF00","#FF0000","#800000","#FF00FF","#0000FF","#00FF00","#FF0000","#800000","#FF00FF","#0000FF","#00FF00","#FF0000","#C0C0C0","#808080","#000000","#000000"]}},
               "strokeWidth": {"field": "kind", "type": "nominal", "legend": null, "scale": {"type": "ordinal", "domain": ["formulation","polymer","drug"], "range": [4, 2.5, 5]}}
             }},
            {"data": {"name": "notes"}, "transform": [{"filter": "datum.panel === 'D' && datum.role === 'label'"}],
             "mark": {"type": "text", "align": "right", "baseline": "middle", "fontSize": 15.5, "font": "Liberation Sans", "color": "#333333"},
             "encoding": {"text": {"field": "text"}}},
            {"data": {"name": "notes"}, "transform": [{"filter": "datum.panel === 'D' && datum.role === 'title'"}],
             "mark": {"type": "text", "align": "center", "baseline": "middle", "fontSize": 21, "font": "Liberation Sans", "color": "#111111"},
             "encoding": {"text": {"field": "text"}}},
            {"data": {"name": "notes"}, "transform": [{"filter": "datum.panel === 'D' && datum.role === 'letter'"}],
             "mark": {"type": "text", "align": "left", "baseline": "middle", "fontSize": 33, "fontWeight": "bold", "font": "Liberation Sans", "color": "#111111"},
             "encoding": {"text": {"field": "text"}}}
          ]
        }
      ],
      "spacing": 25,
      "resolve": {"scale": {"x": "independent", "y": "independent"}}
    }
  ],
  "spacing": 13,
  "resolve": {"scale": {"x": "independent", "y": "independent"}},
  "config": {
    "view": {"stroke": "#222222", "strokeWidth": 2},
    "axis": {
      "grid": false,
      "domainColor": "#4d4d4d", "domainWidth": 1.5,
      "tickColor": "#4d4d4d", "tickWidth": 1.2, "tickSize": 6,
      "labelFont": "Liberation Sans", "labelFontSize": 15, "labelColor": "#333333", "labelPadding": 10, "labelFlush": false,
      "titleFont": "Liberation Sans", "titleFontSize": 18.5, "titleFontWeight": "normal", "titleColor": "#111111", "titlePadding": 19
    }
  }
}
